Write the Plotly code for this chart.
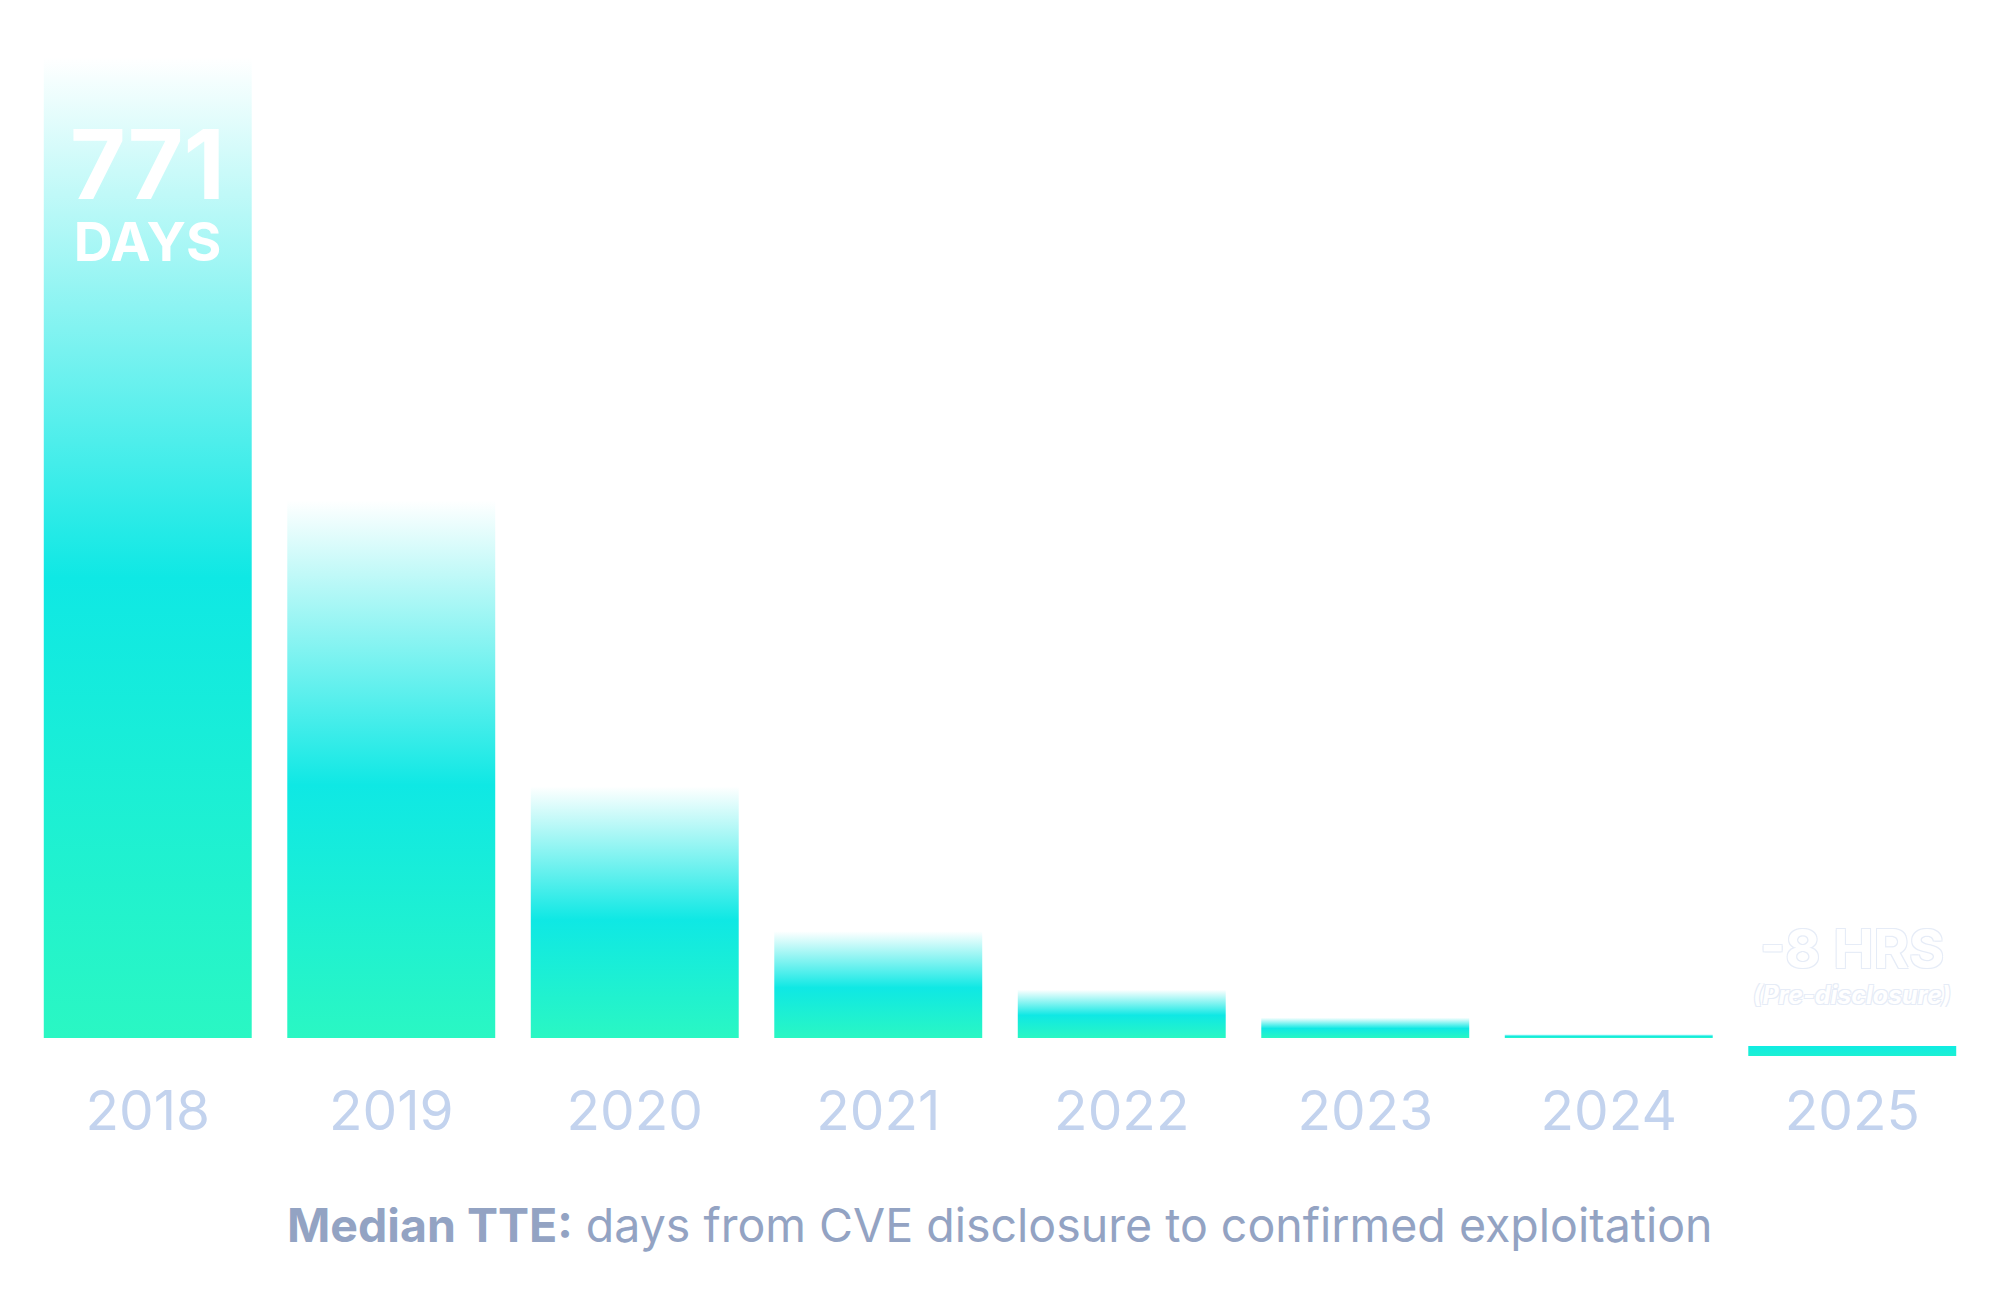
import plotly.graph_objects as go


YEARS = ["2018", "2019", "2020", "2021", "2022", "2023", "2024", "2025"]
MEDIAN_TTE_DAYS = [771, 423, 198, 84, 38, 16, 3, -0.33]  # 2025: -8 hours

BAR_HALF_WIDTH = 0.427
PRE_DISCLOSURE_BAND = (-14.2, -6.3)  # drawn just under the baseline for the negative year

BAR_COLORSCALE = [[0.0, "#2af7c3"], [0.47, "#0fe8e4"], [1.0, "#ffffff"]]
PRE_COLORSCALE = [[0.0, "#1df0d2"], [1.0, "#0fece3"]]
TICK_COLOR = "#c3d3ee"
CAPTION_COLOR = "#93a3c3"
FONT = "Inter"


def bar_outline(i, low, high):
    xs = [i - BAR_HALF_WIDTH, i + BAR_HALF_WIDTH, i + BAR_HALF_WIDTH, i - BAR_HALF_WIDTH, i - BAR_HALF_WIDTH]
    ys = [low, low, high, high, low]
    return xs, ys


fig = go.Figure()

for i, days in enumerate(MEDIAN_TTE_DAYS):
    if days > 0:
        xs, ys = bar_outline(i, 0, days)
        scale = BAR_COLORSCALE
    else:
        xs, ys = bar_outline(i, *PRE_DISCLOSURE_BAND)
        scale = PRE_COLORSCALE
    fig.add_trace(
        go.Scatter(
            x=xs,
            y=ys,
            fill="toself",
            fillgradient=dict(type="vertical", colorscale=scale),
            mode="lines",
            line=dict(width=0),
            hoverinfo="skip",
            showlegend=False,
        )
    )

# headline label inside the first bar (one text block, two sizes)
fig.add_annotation(
    x=0, y=667.1,
    text=(
        f"<span style='font-size:96px'><b>{MEDIAN_TTE_DAYS[0]}</b></span><br>"
        "<span style='font-size:54px'><b>DAYS</b></span>"
    ),
    showarrow=False,
    font=dict(family=FONT, size=48, color="white"), yanchor="middle",
)

outline = "-1px -1px 0 #e6ecf7, 1px -1px 0 #e6ecf7, -1px 1px 0 #e6ecf7, 1px 1px 0 #e6ecf7"
fig.add_annotation(
    x=7, y=70.8, text="<b>-8 HRS</b>", showarrow=False,
    font=dict(family=FONT, size=54, color="white", shadow=outline), yanchor="middle", height=44,
)
fig.add_annotation(
    x=7, y=33.8, text="<b><i>(Pre-disclosure)</i></b>", showarrow=False,
    font=dict(family=FONT, size=25, color="white", shadow=outline), yanchor="middle", height=24,
)

fig.add_annotation(
    xref="paper", yref="paper", x=0.5, y=-0.1553,
    text="<b>Median TTE:</b> days from CVE disclosure to confirmed exploitation",
    showarrow=False, yanchor="middle",
    font=dict(family=FONT, size=46.5, color=CAPTION_COLOR),
)

fig.update_xaxes(
    range=[-0.5, 7.5],
    tickvals=list(range(len(YEARS))),
    ticktext=YEARS,
    tickfont=dict(family=FONT, size=55, color=TICK_COLOR),
    showgrid=False, zeroline=False, showline=False, ticks="",
    ticklabelstandoff=11,
)
fig.update_yaxes(
    range=[-19.67, 800.9],
    visible=False,
    showgrid=False, zeroline=False,
)
fig.update_layout(
    width=2000,
    height=1300,
    margin=dict(l=18, r=34, t=12, b=245),
    plot_bgcolor="white",
    paper_bgcolor="white",
)

fig.write_html("out.html")
